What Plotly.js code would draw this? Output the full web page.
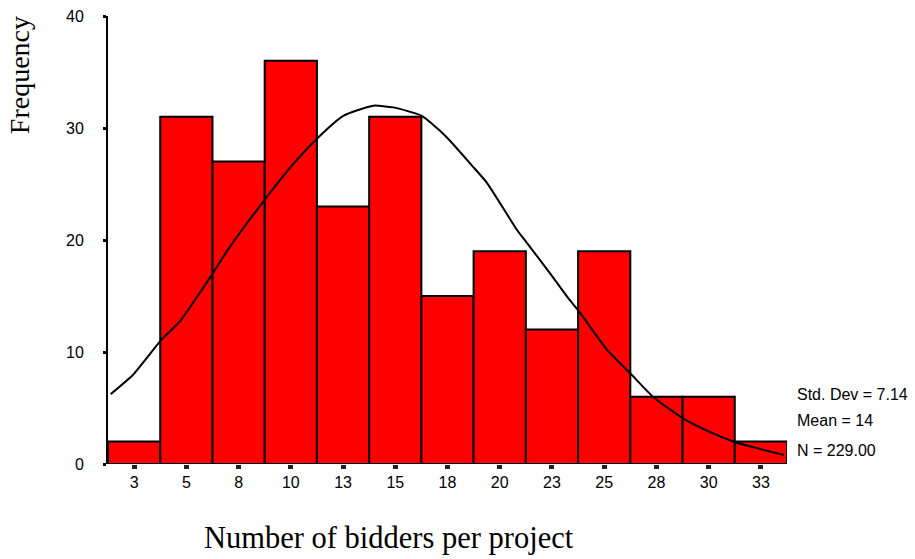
<!DOCTYPE html>
<html>
<head>
<meta charset="utf-8">
<script src="https://cdn.plot.ly/plotly-3.0.1.min.js"></script>
<style>
  html, body { margin: 0; padding: 0; background: #ffffff; }
  #chart { width: 915px; height: 559px; }
</style>
</head>
<body>
<div id="chart"></div>
<script>
// Histogram bins (bin centres, width 2.5) and frequencies
const binCenters = [3, 5.5, 8, 10.5, 13, 15.5, 18, 20.5, 23, 25.5, 28, 30.5, 33];
const binWidth = 2.5;
const frequencies = [2, 31, 27, 36, 23, 31, 15, 19, 12, 19, 6, 6, 2];
const tickLabels = ['3', '5', '8', '10', '13', '15', '18', '20', '23', '25', '28', '30', '33'];

// Fitted normal curve
const curveX = [1.88, 2.95, 4.31, 5.19, 6.73, 7.50, 9.02, 10.61, 11.81, 13.01, 14.45, 15.41, 16.77, 17.64, 18.12, 19.16, 19.88, 21.32, 21.80, 23.07, 23.79, 24.35, 25.63, 26.78, 27.86, 29.33, 30.42, 31.78, 34.09];
const curveY = [6.24, 7.97, 11.10, 12.74, 16.92, 19.16, 23.03, 26.77, 29.16, 31.09, 31.99, 31.84, 31.09, 29.75, 28.86, 26.67, 25.13, 20.92, 19.75, 16.62, 14.78, 13.49, 10.21, 8.03, 5.97, 4.00, 2.98, 1.94, 0.81];

// Summary statistics
const statLabels = ['Std. Dev = 7.14', 'Mean = 14', 'N = 229.00'];

const sans = 'Liberation Sans, Arial, sans-serif';
const serif = 'Liberation Serif, Times New Roman, serif';

const traces = [
  {
    type: 'bar',
    x: binCenters,
    y: frequencies,
    width: binCenters.map(() => binWidth),
    marker: { color: '#ff0000', line: { color: '#000000', width: 2 } },
    hoverinfo: 'x+y'
  },
  {
    type: 'scatter',
    mode: 'lines',
    x: curveX,
    y: curveY,
    line: { color: '#000000', width: 2, shape: 'spline', smoothing: 0.5 },
    hoverinfo: 'skip'
  }
];

const statY = [6.22, 3.85, 1.25];
const annotations = statLabels.map((t, i) => ({
  text: t, xref: 'paper', yref: 'y', x: 1.0125, y: statY[i],
  xanchor: 'left', yanchor: 'middle', showarrow: false,
  font: { family: sans, size: 16, color: '#000000' }
}));
annotations.push({
  text: 'Frequency', xref: 'paper', yref: 'paper', x: -0.131, y: 0.868,
  xanchor: 'center', yanchor: 'middle', textangle: -90, showarrow: false,
  font: { family: serif, size: 28, color: '#000000' }
});
annotations.push({
  text: 'Number of bidders per project', xref: 'paper', yref: 'paper', x: 0.414, y: -0.166,
  xanchor: 'center', yanchor: 'middle', showarrow: false,
  font: { family: serif, size: 30.5, color: '#000000' }
});

const layout = {
  width: 915, height: 559,
  margin: { l: 108, r: 128, t: 16, b: 95, pad: 0 },
  paper_bgcolor: '#ffffff', plot_bgcolor: '#ffffff',
  showlegend: false,
  bargap: 0,
  xaxis: {
    range: [1.75, 34.25],
    tickmode: 'array', tickvals: binCenters, ticktext: tickLabels,
    ticks: 'outside', ticklen: 4, tickwidth: 5, tickcolor: '#222222',
    ticklabelstandoff: 0,
    showline: false, zeroline: false, showgrid: false,
    tickfont: { family: sans, size: 16, color: '#000000' }
  },
  yaxis: {
    range: [0, 40],
    tickmode: 'array', tickvals: [0, 10, 20, 30, 40],
    ticks: 'outside', ticklen: 3, tickwidth: 3, tickcolor: '#000000',
    ticklabelstandoff: 16,
    showline: true, linecolor: '#000000', linewidth: 2,
    zeroline: false, showgrid: false,
    tickfont: { family: sans, size: 16, color: '#000000' }
  },
  annotations: annotations
};

Plotly.newPlot('chart', traces, layout, { displayModeBar: false, staticPlot: true });
</script>
</body>
</html>
